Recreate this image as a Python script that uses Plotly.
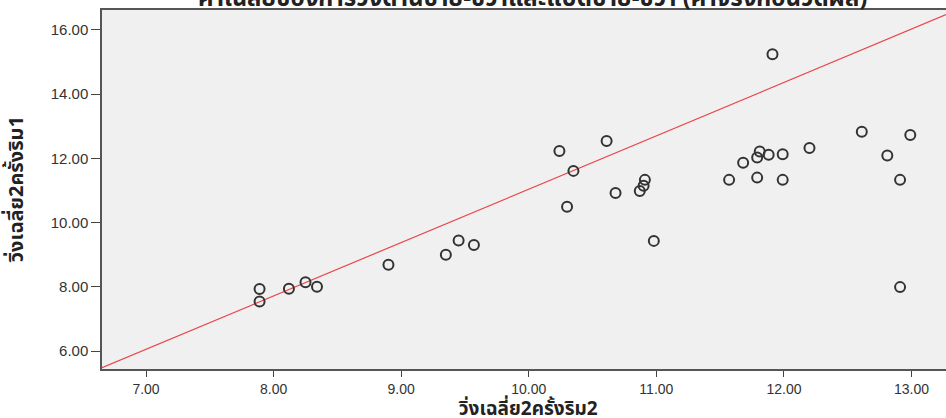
import plotly.graph_objects as go
import numpy as np

# Data (x = วิ่งเฉลี่ย2ครั้งริม2, y = วิ่งเฉลี่ย2ครั้งริม1)
x_vals = [7.89, 7.89, 8.12, 8.25, 8.34, 8.90, 9.35, 9.45, 9.57,
          10.24, 10.61, 10.35, 10.68, 10.30, 10.91, 10.90, 10.87, 10.98,
          11.57, 11.68, 11.79, 11.81, 11.88, 11.99, 11.79, 11.99, 12.20,
          12.61, 12.81, 12.99, 12.91, 11.91, 12.91]
y_vals = [7.93, 7.54, 7.94, 8.14, 8.00, 8.69, 9.00, 9.44, 9.30,
          12.23, 12.54, 11.61, 10.92, 10.49, 11.33, 11.15, 10.98, 9.43,
          11.33, 11.86, 12.03, 12.21, 12.11, 12.13, 11.40, 11.33, 12.32,
          12.83, 12.09, 12.73, 11.33, 15.24, 7.99]

# Reference (fit) line parameters
line_intercept = -5.58
line_slope = 1.662

x_range = [6.655, 13.27]
y_range = [5.44, 16.62]
x_ticks = [7, 8, 9, 10, 11, 12, 13]
y_ticks = [6, 8, 10, 12, 14, 16]

title_text = "ค่าเฉลี่ยของการวิ่งด้านซ้าย-ขวาและแบดซ้าย-ขวา (ค่าจริงก่อนวัดผล)"
x_title = "วิ่งเฉลี่ย2ครั้งริม2"
y_title = "วิ่งเฉลี่ย2ครั้งริม1"

thai_font = "Tahoma, 'Noto Sans Thai', 'Liberation Sans', Arial, sans-serif"
tick_font = "'Liberation Sans', Arial, sans-serif"

lx = np.array(x_range)
ly = line_intercept + line_slope * lx

fig = go.Figure()
fig.add_trace(go.Scatter(
    x=lx, y=ly, mode="lines",
    line=dict(color="#e8474a", width=1.2),
    hoverinfo="skip", showlegend=False,
))
fig.add_trace(go.Scatter(
    x=x_vals, y=y_vals, mode="markers",
    marker=dict(symbol="circle-open", size=10, color="#333333",
                line=dict(width=2, color="#333333")),
    showlegend=False,
))

# Chart title (mostly cut off at the top, as in the reference)
fig.add_annotation(
    text="<b>" + title_text + "</b>", xref="paper", yref="paper",
    x=0.51, y=1, xanchor="center", yanchor="bottom", yshift=-9,
    showarrow=False,
    font=dict(family=thai_font, size=24, color="#222222"),
)
# Axis titles
fig.add_annotation(
    text="<b>" + x_title + "</b>", xref="paper", yref="paper",
    x=0.505, y=0, xanchor="center", yanchor="middle", yshift=-40,
    showarrow=False,
    font=dict(family=thai_font, size=19, color="#222222"),
)
fig.add_annotation(
    text="<b>" + y_title + "</b>", xref="paper", yref="paper",
    x=0, y=0.5, xanchor="center", yanchor="middle", xshift=-86,
    textangle=-90, showarrow=False,
    font=dict(family=thai_font, size=20, color="#222222"),
)

fig.update_layout(
    width=946, height=418,
    margin=dict(l=102, r=0, t=10, b=49),
    paper_bgcolor="white",
    plot_bgcolor="#f0f0f0",
    xaxis=dict(
        range=x_range, tickvals=x_ticks, automargin=False,
        ticktext=[f"{v:.2f}" for v in x_ticks],
        showgrid=False, zeroline=False,
        showline=True, linecolor="#555555", linewidth=1.5, mirror=True,
        ticks="outside", ticklen=6, tickwidth=1, tickcolor="#444444",
        tickfont=dict(family=tick_font, size=14, color="#333333"),
    ),
    yaxis=dict(
        range=y_range, tickvals=y_ticks, automargin=False,
        ticktext=[f"{v:.2f}" for v in y_ticks],
        showgrid=False, zeroline=False,
        showline=True, linecolor="#555555", linewidth=1.5, mirror=True,
        ticks="outside", ticklen=9, tickwidth=1, tickcolor="#444444",
        tickfont=dict(family=tick_font, size=15, color="#333333"),
    ),
)

fig.write_html("out.html")
